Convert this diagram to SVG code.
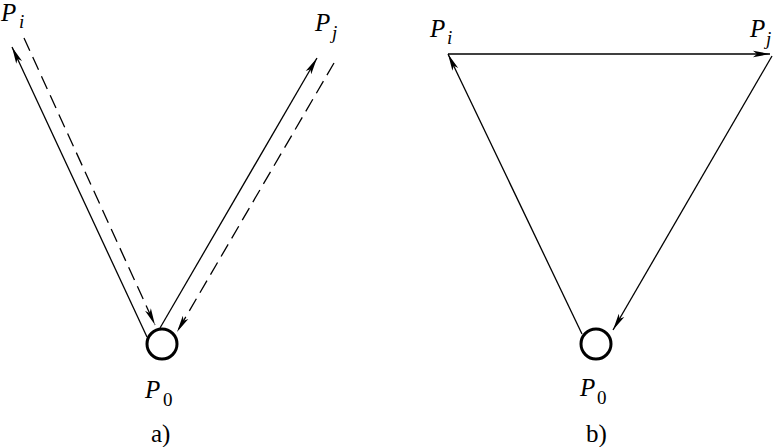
<svg xmlns="http://www.w3.org/2000/svg" width="776" height="447" viewBox="0 0 776 447">
<style>
.ln{stroke:#000;stroke-width:1.3;fill:none;marker-end:url(#ah)}
.ds{stroke-dasharray:14 7}
.nd{fill:#fff;stroke:#000;stroke-width:3}
.t{font-family:'Liberation Serif','DejaVu Serif',serif;fill:#000}
.p{font-style:italic;font-size:25px}
.s{font-size:19px}
.si{font-style:italic;font-size:19px}
.cap{font-size:25px}
</style>
<defs>
<marker id="ah" markerUnits="userSpaceOnUse" markerWidth="18" markerHeight="8" viewBox="0 0 18 8" refX="17" refY="4" orient="auto">
<path d="M0,0.8 L17,4 L0,7.2 L4,4 Z" fill="#000"/>
</marker>
</defs>
<g id="connectors">
<line class="ln" x1="147" y1="337" x2="12" y2="47"/>
<line class="ln ds" x1="24" y1="38" x2="155" y2="325"/>
<line class="ln" x1="160" y1="328" x2="317" y2="58"/>
<line class="ln ds" x1="334" y1="63" x2="177" y2="332"/>
<line class="ln" x1="582" y1="334" x2="448" y2="54"/>
<line class="ln" x1="448" y1="54" x2="770" y2="54"/>
<line class="ln" x1="772" y1="56" x2="613" y2="330"/>
</g>
<g id="node-a-P0" class="t">
<circle class="nd" cx="162" cy="344" r="15"/>
<text class="p" x="145" y="398">P</text><text class="s" x="163" y="406">0</text>
</g>
<g id="node-a-Pi" class="t">
<text class="p" x="1" y="21">P</text><text class="si" x="19" y="28">i</text>
</g>
<g id="node-a-Pj" class="t">
<text class="p" x="315" y="31">P</text><text class="si" x="332" y="39">j</text>
</g>
<g id="node-b-P0" class="t">
<circle class="nd" cx="596" cy="344" r="15"/>
<text class="p" x="580" y="396">P</text><text class="s" x="597" y="404">0</text>
</g>
<g id="node-b-Pi" class="t">
<text class="p" x="430" y="37">P</text><text class="si" x="447" y="44">i</text>
</g>
<g id="node-b-Pj" class="t">
<text class="p" x="750" y="37">P</text><text class="si" x="766" y="45">j</text>
</g>
<g id="captions" class="t">
<text class="cap" x="151" y="442">a)</text>
<text class="cap" x="586" y="442">b)</text>
</g>
</svg>
